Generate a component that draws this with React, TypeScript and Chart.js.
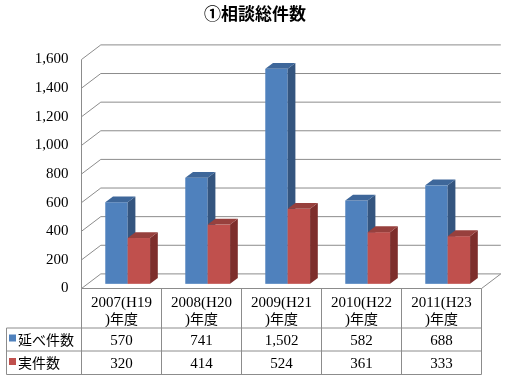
import React, { useEffect, useRef } from "react";
import { Chart, registerables } from "chart.js";

Chart.register(...registerables);

const TITLE = "①相談総件数";
const CATEGORIES: string[][] = [
  ["2007(H19", ")年度"],
  ["2008(H20", ")年度"],
  ["2009(H21", ")年度"],
  ["2010(H22", ")年度"],
  ["2011(H23", ")年度"],
];
const SERIES_NAMES = ["延べ件数", "実件数"];
const TOTAL_CASES = [570, 741, 1502, 582, 688];
const ACTUAL_CASES = [320, 414, 524, 361, 333];
const Y_MIN = 0;
const Y_MAX = 1600;
const Y_STEP = 200;

const FRONT_COLORS = ["#4F81BD", "#C0504D"];
const SIDE_COLORS = ["#34557F", "#7D2E2C"];
const TOP_COLORS = ["#3E679A", "#97403D"];
const GRID_COLOR = "#8c8c8c";
const TABLE_COLOR = "#8c8c8c";

const DX = 19.3;
const DY = -14.6;
const BAR_FRONT = 0.32;
const BAR_DEPTH = 0.4;

const SERIF = '15px "Liberation Serif"';
const CJK = '14px "Noto Sans CJK JP"';

function drawMixed(ctx: CanvasRenderingContext2D, text: string, x: number, baseline: number, align: "center" | "left") {
  const runs: { t: string; f: string }[] = [];
  for (const ch of text) {
    const f = ch.charCodeAt(0) < 128 ? SERIF : CJK;
    if (runs.length && runs[runs.length - 1].f === f) runs[runs.length - 1].t += ch;
    else runs.push({ t: ch, f });
  }
  let total = 0;
  const widths = runs.map((r) => {
    ctx.font = r.f;
    const w = ctx.measureText(r.t).width;
    total += w;
    return w;
  });
  let cx = align === "center" ? x - total / 2 : x;
  ctx.textAlign = "left";
  ctx.textBaseline = "alphabetic";
  runs.forEach((r, i) => {
    ctx.font = r.f;
    ctx.fillText(r.t, cx, baseline);
    cx += widths[i];
  });
}

const threeD = {
  id: "threeD",
  beforeDatasetsDraw(chart: any) {
    const ctx: CanvasRenderingContext2D = chart.ctx;
    const { left: L, right: R } = chart.chartArea;
    const y = chart.scales.y;
    const y0 = y.getPixelForValue(Y_MIN);
    const yTop = y.getPixelForValue(Y_MAX);
    ctx.save();
    // floor
    ctx.fillStyle = "#ffffff";
    ctx.beginPath();
    ctx.moveTo(L, y0);
    ctx.lineTo(R, y0);
    ctx.lineTo(R + DX, y0 + DY);
    ctx.lineTo(L + DX, y0 + DY);
    ctx.closePath();
    ctx.fill();
    ctx.strokeStyle = GRID_COLOR;
    ctx.lineWidth = 1;
    ctx.beginPath();
    ctx.moveTo(R, y0);
    ctx.lineTo(R + DX, y0 + DY);
    ctx.stroke();
    // walls
    ctx.beginPath();
    ctx.moveTo(L, y0);
    ctx.lineTo(L, yTop);
    ctx.stroke();
    for (let v = Y_MIN; v <= Y_MAX; v += Y_STEP) {
      const py = y.getPixelForValue(v);
      ctx.beginPath();
      ctx.moveTo(L, py);
      ctx.lineTo(L + DX, py + DY);
      ctx.lineTo(R + DX, py + DY);
      ctx.stroke();
    }
    ctx.restore();
  },
  afterDatasetsDraw(chart: any) {
    const ctx: CanvasRenderingContext2D = chart.ctx;
    const sx = BAR_FRONT * DX, sy = BAR_FRONT * DY;
    const bx = BAR_DEPTH * DX, by = BAR_DEPTH * DY;
    ctx.save();
    const n = chart.data.labels.length;
    for (let i = 0; i < n; i++) {
      chart.data.datasets.forEach((_: any, d: number) => {
        const el = chart.getDatasetMeta(d).data[i];
        const p = el.getProps(["x", "y", "base", "width"], true);
        const left = p.x - p.width / 2 + sx;
        const right = p.x + p.width / 2 + sx;
        const top = p.y + sy;
        const bottom = p.base + sy;
        ctx.fillStyle = FRONT_COLORS[d];
        ctx.fillRect(left, top, right - left, bottom - top);
        ctx.fillStyle = SIDE_COLORS[d];
        ctx.beginPath();
        ctx.moveTo(right, top);
        ctx.lineTo(right + bx, top + by);
        ctx.lineTo(right + bx, bottom + by);
        ctx.lineTo(right, bottom);
        ctx.closePath();
        ctx.fill();
        ctx.fillStyle = TOP_COLORS[d];
        ctx.beginPath();
        ctx.moveTo(left, top);
        ctx.lineTo(left + bx, top + by);
        ctx.lineTo(right + bx, top + by);
        ctx.lineTo(right, top);
        ctx.closePath();
        ctx.fill();
      });
    }
    ctx.restore();
  },
  afterDraw(chart: any) {
    const ctx: CanvasRenderingContext2D = chart.ctx;
    const { left: L, right: R, bottom: B } = chart.chartArea;
    const xs = chart.scales.x;
    const n = chart.data.labels.length;
    const step = (R - L) / n;
    const headerB = B + 39.5;
    const row1B = headerB + 23;
    const row2B = row1B + 23.5;
    const legendL = 6.5;
    ctx.save();
    // title
    ctx.fillStyle = "#000";
    ctx.font = 'bold 17px "Noto Sans CJK JP"';
    ctx.textAlign = "center";
    ctx.textBaseline = "alphabetic";
    ctx.fillText(TITLE, chart.width / 2, 20);
    // table lines
    ctx.strokeStyle = TABLE_COLOR;
    ctx.lineWidth = 1;
    ctx.beginPath();
    ctx.moveTo(L, B);
    ctx.lineTo(R, B);
    ctx.moveTo(legendL, headerB);
    ctx.lineTo(R, headerB);
    ctx.moveTo(legendL, row1B);
    ctx.lineTo(R, row1B);
    ctx.moveTo(legendL, row2B);
    ctx.lineTo(R, row2B);
    ctx.moveTo(legendL, headerB);
    ctx.lineTo(legendL, row2B);
    for (let i = 0; i <= n; i++) {
      const x = L + i * step;
      ctx.moveTo(x, B);
      ctx.lineTo(x, row2B);
    }
    ctx.stroke();
    // header labels & values
    ctx.fillStyle = "#000";
    const rows = [row1B, row2B];
    for (let i = 0; i < n; i++) {
      const cx = xs.getPixelForValue(i);
      const lab = chart.data.labels[i] as string[];
      drawMixed(ctx, lab[0], cx, B + 18, "center");
      drawMixed(ctx, lab[1], cx, B + 35, "center");
      chart.data.datasets.forEach((ds: any, d: number) => {
        const txt = Number(ds.data[i]).toLocaleString("en-US");
        drawMixed(ctx, txt, cx, rows[d] - 6.5, "center");
      });
    }
    // legend cells
    chart.data.datasets.forEach((ds: any, d: number) => {
      const base = rows[d] - 6.5;
      ctx.fillStyle = FRONT_COLORS[d];
      ctx.fillRect(9, base - 10, 7, 7);
      ctx.fillStyle = "#000";
      ctx.font = CJK;
      ctx.textAlign = "left";
      ctx.fillText(ds.label, 18, base);
    });
    ctx.restore();
  },
};

export default function App() {
  const ref = useRef<HTMLCanvasElement | null>(null);
  useEffect(() => {
    if (!ref.current) return;
    const chart = new Chart(ref.current, {
      type: "bar",
      data: {
        labels: CATEGORIES,
        datasets: [
          { label: SERIES_NAMES[0], data: TOTAL_CASES, backgroundColor: "rgba(0,0,0,0)", borderWidth: 0 },
          { label: SERIES_NAMES[1], data: ACTUAL_CASES, backgroundColor: "rgba(0,0,0,0)", borderWidth: 0 },
        ],
      },
      options: {
        responsive: false,
        animation: false,
        devicePixelRatio: 1,
        layout: { padding: { left: 0, right: 28.5, top: 59.5, bottom: 91.5 } },
        datasets: { bar: { barPercentage: 1, categoryPercentage: 0.56 } },
        plugins: { legend: { display: false }, title: { display: false }, tooltip: { enabled: false } },
        scales: {
          x: { display: false, offset: true },
          y: {
            min: Y_MIN,
            max: Y_MAX,
            grid: { display: false, drawTicks: false },
            border: { display: false },
            ticks: {
              stepSize: Y_STEP,
              padding: 13,
              color: "#000",
              font: { family: "Liberation Serif", size: 15 },
              callback: (v: any) => Number(v).toLocaleString("en-US"),
            },
            afterFit: (s: any) => {
              s.width = 81.5;
            },
          },
        },
      },
      plugins: [threeD],
    });
    return () => chart.destroy();
  }, []);
  return (
    <div style={{ position: "absolute", left: 0, top: 0, width: 510, height: 380, background: "#fff" }}>
      <canvas ref={ref} width={510} height={380} />
    </div>
  );
}
